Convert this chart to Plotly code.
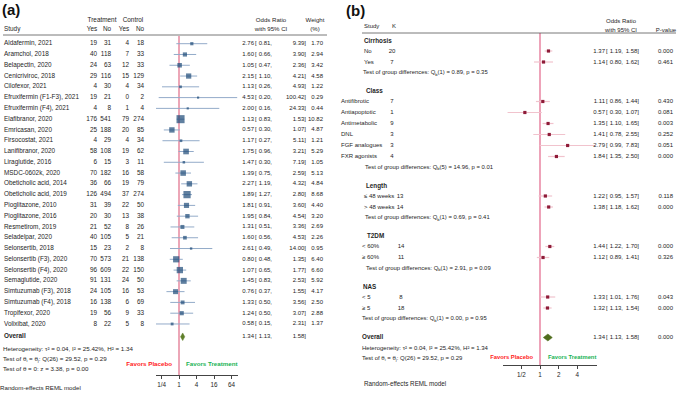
import math
import plotly.graph_objects as go

W, H = 677, 395
FONT = "Liberation Sans, Arial, sans-serif"
TXT = "#1e1e1e"
FS = 6.4

# ---------------- Panel (a) data ----------------
studies = ["Aldafermin, 2021", "Aramchol, 2018", "Belapectin, 2020", "Cenicriviroc, 2018",
           "Cilofexor, 2021", "Efruxifermin (F1-F3), 2021", "Efruxifermin (F4), 2021",
           "Elafibranor, 2020", "Emricasan, 2020", "Firsocostat, 2021", "Lanifibranor, 2020",
           "Liraglutide, 2016", "MSDC-0602k, 2020", "Obeticholic acid, 2014",
           "Obeticholic acid, 2019", "Pioglitazone, 2010", "Pioglitazone, 2016",
           "Resmetirom, 2019", "Seladelpar, 2020", "Selonsertib, 2018", "Selonsertib (F3), 2020",
           "Selonsertib (F4), 2020", "Semaglutide, 2020", "Simtuzumab (F3), 2018",
           "Simtuzumab (F4), 2018", "Tropifexor, 2020", "Volixibat, 2020"]
t_yes = [19, 40, 24, 29, 4, 19, 4, 176, 25, 4, 58, 6, 70, 36, 126, 31, 20, 21, 40, 15, 70, 96, 91, 24, 16, 19, 8]
t_no = [31, 118, 63, 116, 30, 21, 8, 541, 188, 29, 108, 15, 182, 66, 494, 39, 30, 52, 105, 23, 573, 609, 131, 105, 138, 56, 22]
c_yes = [4, 7, 12, 15, 4, 0, 1, 79, 20, 4, 19, 3, 16, 19, 37, 22, 13, 8, 5, 2, 21, 22, 24, 16, 6, 9, 5]
c_no = [18, 33, 33, 129, 34, 2, 4, 274, 85, 34, 62, 11, 58, 79, 274, 50, 38, 26, 21, 8, 138, 150, 50, 53, 69, 33, 8]
or_a = [2.76, 1.60, 1.05, 2.15, 1.13, 4.53, 2.00, 1.13, 0.57, 1.17, 1.75, 1.47, 1.39, 2.27, 1.89,
        1.81, 1.95, 1.31, 1.60, 2.61, 0.80, 1.07, 1.45, 0.76, 1.33, 1.24, 0.58]
lo_a = [0.81, 0.66, 0.47, 1.10, 0.26, 0.20, 0.16, 0.83, 0.30, 0.27, 0.96, 0.30, 0.75, 1.19, 1.27,
        0.91, 0.84, 0.51, 0.56, 0.49, 0.48, 0.65, 0.83, 0.37, 0.50, 0.50, 0.15]
hi_a = [9.39, 3.90, 2.36, 4.21, 4.93, 100.42, 24.33, 1.53, 1.07, 5.11, 3.21, 7.19, 2.59, 4.32, 2.80,
        3.60, 4.54, 3.36, 4.53, 14.00, 1.35, 1.77, 2.53, 1.55, 3.56, 3.07, 2.31]
wt_a = [1.70, 2.94, 3.42, 4.58, 1.22, 0.29, 0.44, 10.82, 4.87, 1.21, 5.29, 1.05, 5.13, 4.84, 8.68,
        4.40, 3.20, 2.69, 2.26, 0.95, 6.40, 6.60, 5.92, 4.17, 2.50, 2.88, 1.37]
overall_a = [1.34, 1.13, 1.58]
a_ticks = [0.25, 1, 4, 16, 64]
a_ticklabels = ["1/4", "1", "4", "16", "64"]
a_footer = ["Heterogeneity: τ² = 0.04, I² = 25.42%, H² = 1.34",
            "Test of θ<sub>i</sub> = θ<sub>j</sub>: Q(26) = 29.52, p = 0.29",
            "Test of θ = 0: z = 3.38, p = 0.00"]

# ---------------- Panel (b) data ----------------
b_groups = ["Cirrhosis", "Class", "Length", "T2DM", "NAS"]
b_labels = [["No", "Yes"],
            ["Antifibrotic", "Antiapoptotic", "Antimetabolic", "DNL", "FGF analogues", "FXR agonists"],
            ["≤ 48 weeks", "> 48 weeks"],
            ["< 60%", "≥ 60%"],
            ["< 5", "≥ 5"]]
b_k = [[20, 7], [7, 1, 9, 3, 3, 4], [13, 14], [14, 11], [8, 18]]
b_or = [[1.37, 1.14], [1.11, 0.57, 1.35, 1.41, 2.79, 1.84], [1.22, 1.38], [1.44, 1.12], [1.33, 1.32]]
b_lo = [[1.19, 0.80], [0.86, 0.30, 1.10, 0.78, 0.99, 1.35], [0.95, 1.18], [1.22, 0.89], [1.01, 1.13]]
b_hi = [[1.58, 1.62], [1.44, 1.07, 1.65, 2.55, 7.83, 2.50], [1.57, 1.62], [1.70, 1.41], [1.76, 1.54]]
b_p = [["0.000", "0.461"], ["0.430", "0.081", "0.003", "0.252", "0.051", "0.000"],
       ["0.118", "0.000"], ["0.000", "0.326"], ["0.043", "0.000"]]
b_test = [("1", "0.89", "0.35"), ("5", "14.96", "0.01"), ("1", "0.69", "0.41"),
          ("1", "2.91", "0.09"), ("1", "0.00", "0.95")]
overall_b = [1.34, 1.13, 1.58]
overall_b_p = "0.000"
b_ticks = [0.5, 1, 2, 4]
b_ticklabels = ["1/2", "1", "2", "4"]
b_footer = ["Heterogeneity: τ² = 0.04, I² = 25.42%, H² = 1.34",
            "Test of θ<sub>i</sub> = θ<sub>j</sub>: Q(26) = 29.52, p = 0.29"]

# ---------------- layout helpers (pixel geometry) ----------------
A_TOP, A_STEP = 43.7, 10.78
A_X1, A_PX = 179.0, 8.75          # pixel of OR=1, pixels per doubling
A_LEFT, A_RIGHT = 156.0, 238.0
A_AXIS_Y = 375.0
B_X1, B_PX = 540.0, 18.67
B_LEFT, B_RIGHT = 503.0, 597.0
B_AXIS_Y = 365.0


def px_to_val(px, x1, ppd):
    return 2 ** ((px - x1) / ppd)


fig = go.Figure()


def text(xs, ys, texts, pos, size=FS, color=TXT):
    fig.add_trace(go.Scatter(x=xs, y=ys, text=texts, mode="text", textposition=pos,
                             textfont=dict(family=FONT, size=size, color=color),
                             xaxis="x3", yaxis="y", hoverinfo="skip", cliponaxis=False))


# ---------------- Panel (a) ----------------
n = len(studies)
ya = [A_TOP + A_STEP * i for i in range(n)]
y_over_a = ya[-1] + A_STEP + 2

fig.add_trace(go.Scatter(x=[1, 1], y=[36, A_AXIS_Y], mode="lines",
                         line=dict(color="#eca6b7", width=2), xaxis="x", yaxis="y", hoverinfo="skip"))
cx, cy = [], []
for lo, hi, y in zip(lo_a, hi_a, ya):
    cx += [lo, hi, None]
    cy += [y, y, None]
fig.add_trace(go.Scatter(x=cx, y=cy, mode="lines", line=dict(color="#93abc9", width=1),
                         xaxis="x", yaxis="y", hoverinfo="skip"))
fig.add_trace(go.Scatter(x=or_a, y=ya, mode="markers",
                         marker=dict(symbol="square", color="#1d4a78",
                                     size=[max(2.2, 2.45 * math.sqrt(w)) for w in wt_a], line=dict(width=0)),
                         xaxis="x", yaxis="y", hoverinfo="skip"))
est, lo, hi = overall_a
fig.add_trace(go.Scatter(x=[lo, est, hi, est, lo], y=[y_over_a, y_over_a - 3.8, y_over_a, y_over_a + 3.8, y_over_a],
                         mode="lines", fill="toself", fillcolor="#5f7f2a", line=dict(color="#5f7f2a", width=0.5),
                         xaxis="x", yaxis="y", hoverinfo="skip"))

# headers
text([2], [11], ["<b>(a)</b>"], "middle right", size=15, color="#111")
text([102], [20], ["Treatment"], "middle center")
text([133], [20], ["Control"], "middle center")
text([4], [29], ["Study"], "middle right")
text([92, 107, 124, 140], [29] * 4, ["Yes", "No", "Yes", "No"], "middle center")
text([271], [20], ["Odds Ratio"], "middle center", size=6.1)
text([271], [29], ["with 95% CI"], "middle center", size=6.1)
text([315], [20], ["Weight"], "middle center", size=6.1)
text([315], [29], ["(%)"], "middle center", size=6.1)

text([4] * n, ya, studies, "middle right")
text([97] * n, ya, [str(v) for v in t_yes], "middle left")
text([111] * n, ya, [str(v) for v in t_no], "middle left")
text([129] * n, ya, [str(v) for v in c_yes], "middle left")
text([144] * n, ya, [str(v) for v in c_no], "middle left")
ya_all = ya + [y_over_a]
RS = 6.0
text([254] * (n + 1), ya_all, [f"{v:.2f}" for v in or_a + [overall_a[0]]], "middle left", size=RS)
text([255] * (n + 1), ya_all, ["["] * (n + 1), "middle right", size=RS)
text([272] * (n + 1), ya_all, [f"{v:.2f}," for v in lo_a + [overall_a[1]]], "middle left", size=RS)
text([306] * (n + 1), ya_all, [f"{v:.2f}]" for v in hi_a + [overall_a[2]]], "middle left", size=RS)
text([323] * n, ya, [f"{v:.2f}" for v in wt_a], "middle left", size=RS)

text([4], [y_over_a], ["<b>Overall</b>"], "middle right")
text([3, 3, 3], [349, 359, 369], a_footer, "middle right", size=6.2)
text([0], [388], ["Random-effects REML model"], "middle right", size=6.2)
text([172], [364], ["<b>Favors Placebo</b>"], "middle left", size=6.2, color="#ff1a1a")
text([186], [364], ["<b>Favors Treatment</b>"], "middle right", size=6.2, color="#19b354")

# ---------------- Panel (b) ----------------
b_item_x = [364, 341, 364, 362, 362]
b_k_x = [392, 392, 400, 401, 401]
b_head_x = [364, 366, 366, 367, 363]
y = 41.0
HEAD_GAP, ITEM_STEP, TEST_GAP, GROUP_GAP = 10.0, 11.0, 11.0, 18.5
bx_ci, by_ci, bx_pt, by_pt = [], [], [], []
right_rows = []
for g, name in enumerate(b_groups):
    text([b_head_x[g]], [y], [f"<b>{name}</b>"], "middle right", size=6.3)
    y += HEAD_GAP
    ys = []
    for k in range(len(b_labels[g])):
        ys.append(y)
        y += ITEM_STEP
    y = ys[-1] + TEST_GAP
    text([b_item_x[g]] * len(ys), ys, b_labels[g], "middle right", size=6.0)
    text([b_k_x[g]] * len(ys), ys, [str(v) for v in b_k[g]], "middle center", size=6.0)
    df, q, p = b_test[g]
    text([b_head_x[g] - 1], [y], [f"Test of group differences: Q<sub>b</sub>({df}) = {q}, p = {p}"],
         "middle right", size=5.9)
    for lo, hi, yy in zip(b_lo[g], b_hi[g], ys):
        bx_ci += [lo, hi, None]
        by_ci += [yy, yy, None]
    bx_pt += b_or[g]
    by_pt += ys
    right_rows.append((ys, b_or[g], b_lo[g], b_hi[g], b_p[g]))
    y += GROUP_GAP
y_over_b = y

fig.add_trace(go.Scatter(x=[1, 1], y=[33, B_AXIS_Y], mode="lines",
                         line=dict(color="#e2668a", width=1.2), xaxis="x2", yaxis="y", hoverinfo="skip"))
fig.add_trace(go.Scatter(x=bx_ci, y=by_ci, mode="lines", line=dict(color="#f1c3cd", width=1.2),
                         xaxis="x2", yaxis="y", hoverinfo="skip"))
fig.add_trace(go.Scatter(x=bx_pt, y=by_pt, mode="markers",
                         marker=dict(symbol="square", color="#8e1b38", size=3.2, line=dict(width=0)),
                         xaxis="x2", yaxis="y", hoverinfo="skip"))
est, lo, hi = overall_b
fig.add_trace(go.Scatter(x=[lo, est, hi, est, lo], y=[y_over_b, y_over_b - 3.5, y_over_b, y_over_b + 3.5, y_over_b],
                         mode="lines", fill="toself", fillcolor="#4f6d1d", line=dict(color="#4f6d1d", width=0.5),
                         xaxis="x2", yaxis="y", hoverinfo="skip"))

ys_b = [r for row in right_rows for r in row[0]] + [y_over_b]
or_b = [v for row in right_rows for v in row[1]] + [overall_b[0]]
lo_b = [v for row in right_rows for v in row[2]] + [overall_b[1]]
hi_b = [v for row in right_rows for v in row[3]] + [overall_b[2]]
p_b = [v for row in right_rows for v in row[4]] + [overall_b_p]
m = len(ys_b)
text([605] * m, ys_b, [f"{v:.2f}" for v in or_b], "middle left", size=6.0)
text([606] * m, ys_b, ["["] * m, "middle right", size=6.0)
text([623] * m, ys_b, [f"{v:.2f}," for v in lo_b], "middle left", size=6.0)
text([639] * m, ys_b, [f"{v:.2f}]" for v in hi_b], "middle left", size=6.0)
text([673] * m, ys_b, p_b, "middle left", size=6.0)

text([346], [12], ["<b>(b)</b>"], "middle right", size=15, color="#111")
text([364, 392], [26, 26], ["Study", "K"], "middle right", size=6.0)
text([621], [21], ["Odds Ratio"], "middle center", size=6.0)
text([621], [30], ["with 95% CI"], "middle center", size=6.0)
text([666], [30], ["P-value"], "middle center", size=6.0)
text([362], [y_over_b], ["<b>Overall</b>"], "middle right", size=6.3)
text([362, 362], [y_over_b + 10.5, y_over_b + 21], b_footer, "middle right", size=6.0)
text([364], [384], ["Random-effects REML model"], "middle right", size=6.3)
text([533], [358], ["<b>Favors Placebo</b>"], "middle left", size=5.8, color="#ff1a1a")
text([548], [358], ["<b>Favors Treatment</b>"], "middle right", size=5.8, color="#19b354")

# header rules
fig.add_shape(type="line", xref="x3", yref="y", x0=3, x1=327, y0=35, y1=35, line=dict(color="#555", width=0.8))
fig.add_shape(type="line", xref="x3", yref="y", x0=362, x1=676, y0=33, y1=33, line=dict(color="#555", width=0.8))

axis_common = dict(type="log", showgrid=False, zeroline=False, showline=True, linecolor="#444", linewidth=1,
                   ticks="outside", ticklen=3, tickcolor="#444", anchor="free",
                   tickfont=dict(family=FONT, size=6.3, color=TXT))
fig.update_layout(
    width=W, height=H, margin=dict(l=0, r=0, t=0, b=0), showlegend=False,
    paper_bgcolor="white", plot_bgcolor="rgba(0,0,0,0)",
    xaxis=dict(domain=[A_LEFT / W, A_RIGHT / W],
               range=[math.log10(px_to_val(A_LEFT, A_X1, A_PX)), math.log10(px_to_val(A_RIGHT, A_X1, A_PX))],
               position=(H - A_AXIS_Y) / H, tickvals=a_ticks, ticktext=a_ticklabels, **axis_common),
    xaxis2=dict(domain=[B_LEFT / W, B_RIGHT / W],
                range=[math.log10(px_to_val(B_LEFT, B_X1, B_PX)), math.log10(px_to_val(B_RIGHT, B_X1, B_PX))],
                position=(H - B_AXIS_Y) / H, tickvals=b_ticks, ticktext=b_ticklabels, **axis_common),
    xaxis3=dict(domain=[0, 1], range=[0, W], visible=False, anchor="y"),
    yaxis=dict(domain=[0, 1], range=[H, 0], visible=False),
)
fig.write_html("out.html", config={"displayModeBar": False, "staticPlot": True},
               post_script="document.body.style.margin='0';document.body.style.padding='0';"
                           "document.body.style.overflow='hidden';")
